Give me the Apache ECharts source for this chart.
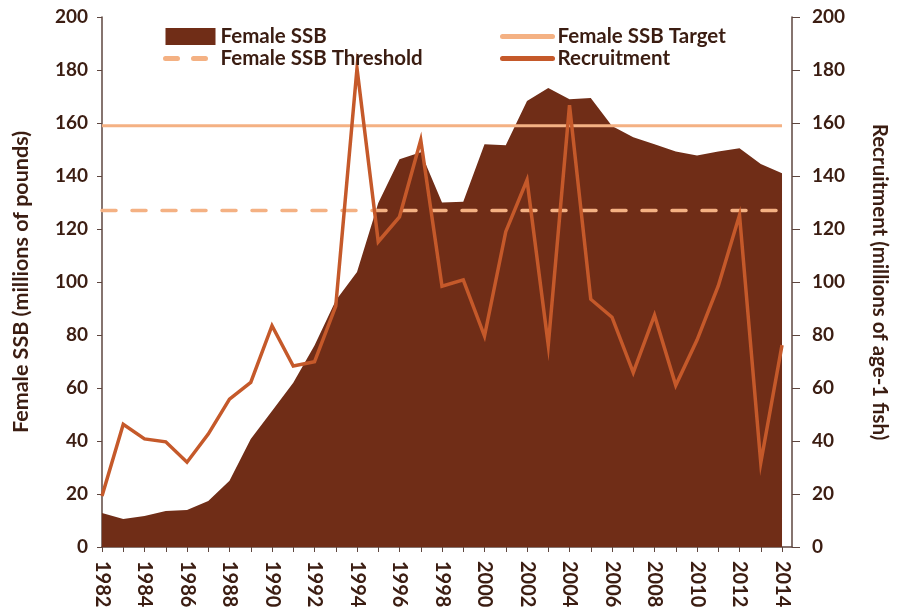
<!DOCTYPE html>
<html>
<head>
<meta charset="utf-8">
<script src="https://cdn.jsdelivr.net/npm/echarts@6/dist/echarts.min.js"></script>
<style>
  html, body { margin: 0; padding: 0; background: #fff; }
  #chart { width: 900px; height: 613px; }
</style>
</head>
<body>
<div id="chart"></div>
<script>
// Years on the horizontal axis
const years = [1982, 1983, 1984, 1985, 1986, 1987, 1988, 1989, 1990, 1991, 1992,
  1993, 1994, 1995, 1996, 1997, 1998, 1999, 2000, 2001, 2002, 2003, 2004, 2005,
  2006, 2007, 2008, 2009, 2010, 2011, 2012, 2013, 2014];

// Female spawning stock biomass (millions of pounds)
const femaleSSB = [12.8, 10.6, 11.7, 13.6, 14.0, 17.4, 25.0, 40.8, 51.3, 62.0, 76.0,
  93.0, 103.8, 129.8, 146.3, 149.0, 130.0, 130.3, 152.0, 151.6, 168.3, 173.2, 169.0, 169.4,
  158.9, 154.6, 152.0, 149.2, 147.7, 149.2, 150.5, 144.5, 141.0];

// Recruitment (millions of age-1 fish)
const recruitment = [19.2, 46.3, 40.8, 39.7, 32.0, 42.6, 55.8, 62.1, 83.5, 68.3, 69.9,
  90.9, 180.6, 115.2, 124.6, 153.6, 98.4, 100.8, 79.6, 119.0, 138.5, 76.2, 166.7, 93.5,
  86.7, 65.8, 87.5, 61.0, 78.1, 98.5, 125.3, 31.8, 76.2];

// Reference levels for female SSB
const ssbTarget = 159;
const ssbThreshold = 127;

const yTicks = { min: 0, max: 200, interval: 20 };

const textColor = '#3b1d12';
const axisColor = '#5e463f';
const ssbColor = '#702d17';
const refColor = '#f4b183';
const recColor = '#c5592a';
const font = 'Lato, "Open Sans", sans-serif';

const firstYear = years[0];
const lastYear = years[years.length - 1];

const pairs = arr => years.map((y, i) => [y, arr[i]]);
const level = v => [[firstYear, v], [lastYear, v]];

const legendText = { fontFamily: font, fontWeight: 'bold', fontSize: 20.5, color: textColor };
// line entries show only a thick stroke, no marker in the middle
const lineEntry = (name, dash) => ({
  name,
  itemStyle: { opacity: 0 },
  lineStyle: { width: 5, cap: 'round', type: dash || 'solid' }
});

const chart = echarts.init(document.getElementById('chart'), null, { renderer: 'canvas' });

chart.setOption({
  animation: false,
  textStyle: { fontFamily: font },
  grid: { left: 102, right: 108, top: 17, bottom: 66, containLabel: false },
  legend: [
    {
      data: [{ name: 'Female SSB', icon: 'rect' }, lineEntry('Female SSB Threshold', [12, 16])],
      orient: 'vertical', left: 158, top: 21, itemGap: 1,
      itemWidth: 50, itemHeight: 17,
      textStyle: legendText
    },
    {
      data: [lineEntry('Female SSB Target'), lineEntry('Recruitment')],
      orient: 'vertical', left: 495, top: 21, itemGap: 1,
      itemWidth: 50, itemHeight: 17,
      textStyle: legendText
    }
  ],
  xAxis: {
    type: 'value',
    min: firstYear,
    max: lastYear + 0.47,
    interval: 1,
    splitLine: { show: false },
    axisLine: { show: true, onZero: false, lineStyle: { color: axisColor, width: 1.5 } },
    axisTick: { show: true, length: 5, lineStyle: { color: axisColor, width: 1 } },
    axisLabel: {
      rotate: -90,
      margin: 14,
      fontFamily: font, fontWeight: 'bold', fontSize: 20, color: textColor,
      showMaxLabel: false,
      formatter: v => (Number.isInteger(v) && v % 2 === 0 && v <= lastYear) ? String(v) : ''
    }
  },
  yAxis: [
    {
      type: 'value', position: 'left',
      min: yTicks.min, max: yTicks.max, interval: yTicks.interval,
      name: 'Female SSB (millions of pounds)',
      nameLocation: 'middle', nameGap: 70, nameRotate: 90,
      nameTextStyle: { fontFamily: font, fontWeight: 'bold', fontSize: 21.5, color: textColor },
      splitLine: { show: false },
      axisLine: { show: true, lineStyle: { color: axisColor, width: 1.5 } },
      axisTick: { show: true, length: 5, lineStyle: { color: axisColor, width: 1 } },
      axisLabel: { margin: 14, fontFamily: font, fontWeight: 'bold', fontSize: 19, color: textColor }
    },
    {
      type: 'value', position: 'right',
      min: yTicks.min, max: yTicks.max, interval: yTicks.interval,
      name: 'Recruitment (millions of age-1 fish)',
      nameLocation: 'middle', nameGap: 77, nameRotate: -90,
      nameTextStyle: { fontFamily: font, fontWeight: 'bold', fontSize: 20.5, color: textColor },
      splitLine: { show: false },
      axisLine: { show: true, lineStyle: { color: axisColor, width: 1.5 } },
      axisTick: { show: true, length: 8, lineStyle: { color: axisColor, width: 1 } },
      axisLabel: { margin: 20, fontFamily: font, fontWeight: 'bold', fontSize: 19, color: textColor }
    }
  ],
  series: [
    {
      name: 'Female SSB',
      type: 'line',
      data: pairs(femaleSSB),
      symbol: 'none',
      lineStyle: { width: 0, color: ssbColor },
      itemStyle: { color: ssbColor },
      areaStyle: { color: ssbColor, opacity: 1 },
      z: 1
    },
    {
      name: 'Female SSB Target',
      type: 'line',
      data: level(ssbTarget),
      symbol: 'none',
      lineStyle: { width: 3, color: refColor },
      itemStyle: { color: refColor },
      z: 2
    },
    {
      name: 'Female SSB Threshold',
      type: 'line',
      data: level(ssbThreshold),
      symbol: 'none',
      lineStyle: { width: 3.5, color: refColor, type: [14, 16], cap: 'round' },
      itemStyle: { color: refColor },
      z: 2
    },
    {
      name: 'Recruitment',
      type: 'line',
      yAxisIndex: 1,
      data: pairs(recruitment),
      symbol: 'none',
      lineStyle: { width: 3.5, color: recColor, join: 'miter' },
      itemStyle: { color: recColor },
      z: 3
    }
  ]
});
</script>
</body>
</html>
